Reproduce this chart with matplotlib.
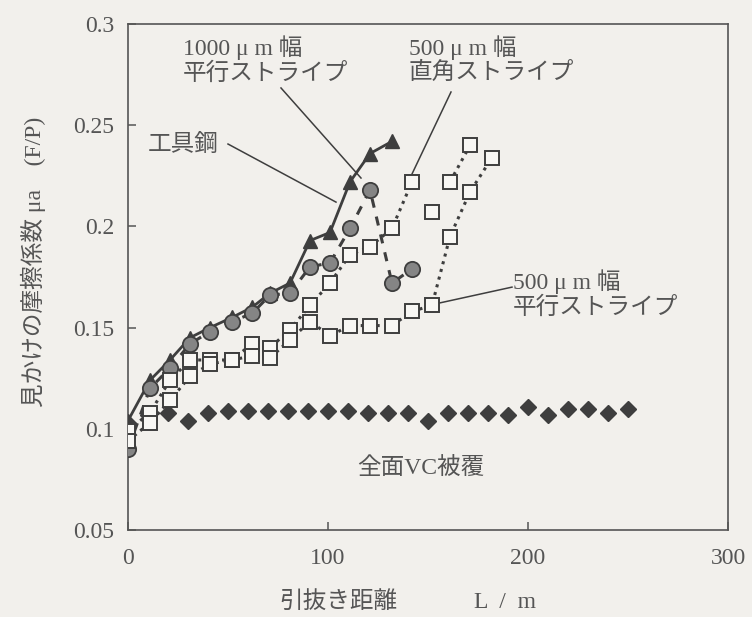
import matplotlib
matplotlib.use("Agg")
import matplotlib.pyplot as plt
from matplotlib.ticker import FixedLocator, FixedFormatter

# 全面VC被覆 (diamonds)
vc_x = [0, 10, 20, 30, 40, 50, 60, 70, 80, 90, 100, 110, 120, 130, 140, 150,
        160, 170, 180, 190, 200, 210, 220, 230, 240, 250]
vc_y = [0.103, 0.107, 0.108, 0.104, 0.108, 0.109, 0.109, 0.109, 0.109, 0.109,
        0.109, 0.109, 0.108, 0.108, 0.108, 0.104, 0.108, 0.108, 0.108, 0.107,
        0.111, 0.107, 0.110, 0.110, 0.108, 0.110]

# 工具鋼 (triangles, solid line)
tool_x = [0, 11, 21, 31, 41, 52, 62, 71, 81, 91, 101, 111, 121, 132]
tool_y = [0.104, 0.124, 0.134, 0.145, 0.150, 0.155, 0.160, 0.167, 0.172,
          0.193, 0.197, 0.222, 0.236, 0.242]

# 1000um 平行ストライプ (grey circles, dashed)
w1000_x = [0, 11, 21, 31, 41, 52, 62, 71, 81, 91, 101, 111, 121, 132, 142]
w1000_y = [0.090, 0.120, 0.130, 0.142, 0.148, 0.153, 0.157, 0.166, 0.167,
           0.180, 0.182, 0.199, 0.218, 0.172, 0.179]

# 500um 直角ストライプ (open squares, dotted)
perp_x = [0, 11, 21, 31, 41, 52, 62, 71, 81, 91, 101, 111, 121, 132, 142,
          152, 161, 171]
perp_y = [0.099, 0.108, 0.124, 0.134, 0.134, 0.134, 0.142, 0.140, 0.149,
          0.161, 0.172, 0.186, 0.190, 0.199, 0.222, 0.207, 0.222, 0.240]

# 500um 平行ストライプ (open squares, dotted)
para_x = [0, 11, 21, 31, 41, 52, 62, 71, 81, 91, 101, 111, 121, 132, 142,
          152, 161, 171, 182]
para_y = [0.094, 0.103, 0.114, 0.126, 0.132, 0.134, 0.136, 0.135, 0.144,
          0.153, 0.146, 0.151, 0.151, 0.151, 0.158, 0.161, 0.195, 0.217, 0.234]

x_ticks = [0, 100, 200, 300]
x_labels = ["0", "100", "200", "300"]
y_ticks = [0.05, 0.1, 0.15, 0.2, 0.25, 0.3]
y_labels = ["0.05", "0.1", "0.15", "0.2", "0.25", "0.3"]

BG = "#f2f0ec"
INK = "#3e3e3e"
TXT = "#555555"
FAM = ["Liberation Serif", "Noto Sans CJK JP"]
FS = 17

plt.rcParams["font.family"] = FAM

fig = plt.figure(figsize=(7.52, 6.17), dpi=100, facecolor=BG)
ax = fig.add_axes([128 / 752, 1 - 530 / 617, 600 / 752, 506 / 617])
ax.set_facecolor(BG)

sq = dict(marker="s", ms=10, mfc="#f8f7f4", mec=INK, mew=1.4, color=INK)
dots = dict(linestyle=(0, (1, 1.6)), lw=2.2, color=INK)

ax.plot(vc_x, vc_y, linestyle="none", marker="D", ms=8.5, color=INK,
        mec=INK, zorder=3)
ax.plot(tool_x, tool_y, "-", lw=2.0, color=INK, marker="^", ms=10.5,
        mfc=INK, mec=INK, zorder=3)
ax.plot(w1000_x, w1000_y, linestyle=(0, (3, 3)), lw=2.2, color=INK,
        marker="o", ms=11, mfc="#858585", mec=INK, mew=1.3, zorder=4)

# 直角: dotted line is broken around the 150 m point in the original
ax.plot(perp_x[:15], perp_y[:15], zorder=4, **dots)
ax.plot(perp_x[16:], perp_y[16:], zorder=4, **dots)
ax.plot(perp_x, perp_y, linestyle="none", zorder=5, **sq)
ax.plot(para_x, para_y, zorder=5, **dots, **{k: v for k, v in sq.items() if k != "color"})

ax.set_xlim(0, 300)
ax.set_ylim(0.05, 0.3)
ax.xaxis.set_major_locator(FixedLocator(x_ticks))
ax.xaxis.set_major_formatter(FixedFormatter(x_labels))
ax.yaxis.set_major_locator(FixedLocator(y_ticks))
ax.yaxis.set_major_formatter(FixedFormatter(y_labels))
ax.tick_params(direction="in", length=6, width=1.1, color=TXT,
               labelsize=FS, labelcolor=TXT)
ax.tick_params(axis="x", pad=13)
ax.tick_params(axis="y", pad=10)
for sp in ax.spines.values():
    sp.set_color(TXT)
    sp.set_linewidth(1.2)

# leader lines
leaders = [((76.5, 0.2684), (116.5, 0.2239)),
           ((161.5, 0.2664), (142, 0.2259)),
           ((50, 0.2407), (104, 0.212)),
           ((192, 0.170), (155, 0.162))]
for (x0, y0), (x1, y1) in leaders:
    ax.plot([x0, x1], [y0, y1], "-", lw=1.1, color=INK, zorder=2)

ax.text(27.5, 0.2822, "1000 μ m 幅\n平行ストライプ", fontsize=FS, color=TXT,
        ha="left", va="center", linespacing=1.1)
ax.text(140.5, 0.2822, "500 μ m 幅\n直角ストライプ", fontsize=FS, color=TXT,
        ha="left", va="center", linespacing=1.1)
ax.text(10, 0.2402, "工具鋼", fontsize=FS, color=TXT, ha="left", va="center")
ax.text(192.5, 0.1666, "500 μ m 幅\n平行ストライプ", fontsize=FS, color=TXT,
        ha="left", va="center", linespacing=1.1)
ax.text(146.5, 0.080, "全面VC被覆", fontsize=FS, color=TXT,
        ha="center", va="center")

fig.text(338 / 752, 1 - 602 / 617, "引抜き距離", fontsize=FS,
         color=TXT, ha="center", va="center")
fig.text(505 / 752, 1 - 602 / 617, "L  /  m", fontsize=FS,
         color=TXT, ha="center", va="center")
fig.text(33 / 752, 1 - 262 / 617, "見かけの摩擦係数 μa　(F/P)", fontsize=FS,
         color=TXT, ha="center", va="center", rotation=90)

fig.savefig("out.png", dpi=100, facecolor=BG)
